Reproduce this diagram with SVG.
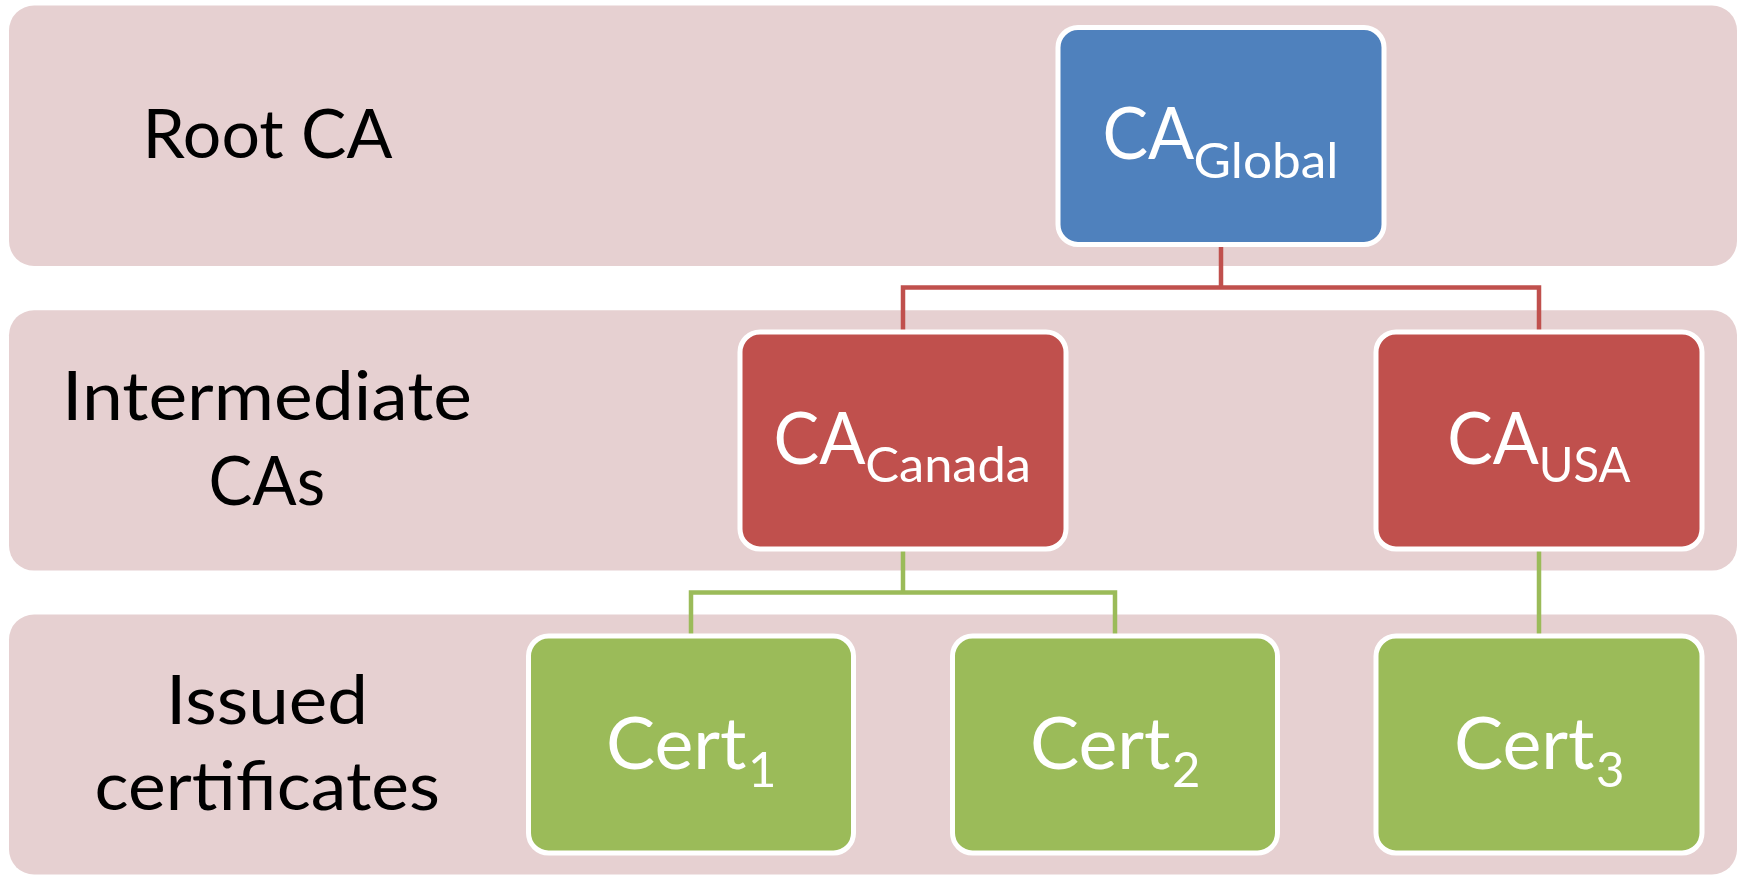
<svg xmlns="http://www.w3.org/2000/svg" width="1741" height="875" viewBox="0 0 1741 875">
  <defs>
    <style>
      .band { fill: #E6D0D1; }
      .node rect { stroke: #FFFFFF; stroke-width: 5; }
      .root rect { fill: #4F81BD; }
      .mid rect { fill: #C0504D; }
      .leaf rect { fill: #9BBB59; }
      .label { font-family: Lato, "Open Sans", "Liberation Sans", sans-serif; font-size: 68px; fill: #000000; text-anchor: middle; }
      .nt { font-family: Lato, "Open Sans", "Liberation Sans", sans-serif; fill: #FFFFFF; }
      .main { font-size: 72.5px; }
      .sub { font-size: 49px; }
      .red { fill: none; stroke: #C0504D; stroke-width: 4.5; }
      .green { fill: none; stroke: #9BBB59; stroke-width: 4.5; }
    </style>
  </defs>
  <rect width="1741" height="875" fill="#FFFFFF"/>

  <!-- level bands -->
  <g id="band-root">
    <rect class="band" x="9" y="5.5" width="1728" height="260.5" rx="25" ry="25"/>
    <text class="label" x="267.5" y="157.7" textLength="250" lengthAdjust="spacingAndGlyphs">Root CA</text>
  </g>
  <g id="band-intermediate">
    <rect class="band" x="9" y="310.3" width="1728" height="260.3" rx="25" ry="25"/>
    <text class="label" x="267" y="420.3" textLength="410" lengthAdjust="spacingAndGlyphs">Intermediate</text>
    <text class="label" x="266.8" y="504.6" textLength="116.5" lengthAdjust="spacingAndGlyphs">CAs</text>
  </g>
  <g id="band-issued">
    <rect class="band" x="9" y="614.5" width="1728" height="260" rx="25" ry="25"/>
    <text class="label" x="267" y="723.5" textLength="202" lengthAdjust="spacingAndGlyphs">Issued</text>
    <text class="label" x="267.3" y="809.7" textLength="345.5" lengthAdjust="spacingAndGlyphs">certificates</text>
  </g>

  <!-- connectors -->
  <g id="connectors">
    <path class="red" d="M1221 244 V287.5 M903 287.5 H1539 M903 285.25 V333 M1539 285.25 V333"/>
    <path class="green" d="M903 548 V592.5 M691 592.5 H1115 M691 590.25 V637 M1115 590.25 V637 M1539 548 V637"/>
  </g>

  <!-- nodes -->
  <g id="ca-global" class="node root">
    <rect x="1058" y="27.5" width="326" height="217" rx="20" ry="20"/>
    <text class="nt"><tspan class="main" x="1102.5" y="159.3" textLength="91.8" lengthAdjust="spacingAndGlyphs">CA</tspan><tspan class="sub" x="1193.5" y="178.3" textLength="145" lengthAdjust="spacingAndGlyphs">Global</tspan></text>
  </g>
  <g id="ca-canada" class="node mid">
    <rect x="740" y="332" width="326" height="217" rx="20" ry="20"/>
    <text class="nt"><tspan class="main" x="773.5" y="463.5" textLength="92" lengthAdjust="spacingAndGlyphs">CA</tspan><tspan class="sub" x="865.2" y="482" textLength="165.8" lengthAdjust="spacingAndGlyphs">Canada</tspan></text>
  </g>
  <g id="ca-usa" class="node mid">
    <rect x="1376" y="332" width="326" height="217" rx="20" ry="20"/>
    <text class="nt"><tspan class="main" x="1447.2" y="464" textLength="91.6" lengthAdjust="spacingAndGlyphs">CA</tspan><tspan class="sub" x="1538.8" y="482.3" textLength="91.7" lengthAdjust="spacingAndGlyphs">USA</tspan></text>
  </g>
  <g id="cert-1" class="node leaf">
    <rect x="528.5" y="636" width="325" height="217" rx="20" ry="20"/>
    <text class="nt"><tspan class="main" x="606" y="768.5" textLength="140.5" lengthAdjust="spacingAndGlyphs">Cert</tspan><tspan class="sub" x="748" y="787.3">1</tspan></text>
  </g>
  <g id="cert-2" class="node leaf">
    <rect x="952.5" y="636" width="325" height="217" rx="20" ry="20"/>
    <text class="nt"><tspan class="main" x="1030" y="768.5" textLength="140.5" lengthAdjust="spacingAndGlyphs">Cert</tspan><tspan class="sub" x="1172" y="787.3">2</tspan></text>
  </g>
  <g id="cert-3" class="node leaf">
    <rect x="1376" y="636" width="326" height="217" rx="20" ry="20"/>
    <text class="nt"><tspan class="main" x="1454" y="768.5" textLength="140.5" lengthAdjust="spacingAndGlyphs">Cert</tspan><tspan class="sub" x="1596" y="787.3">3</tspan></text>
  </g>
</svg>
